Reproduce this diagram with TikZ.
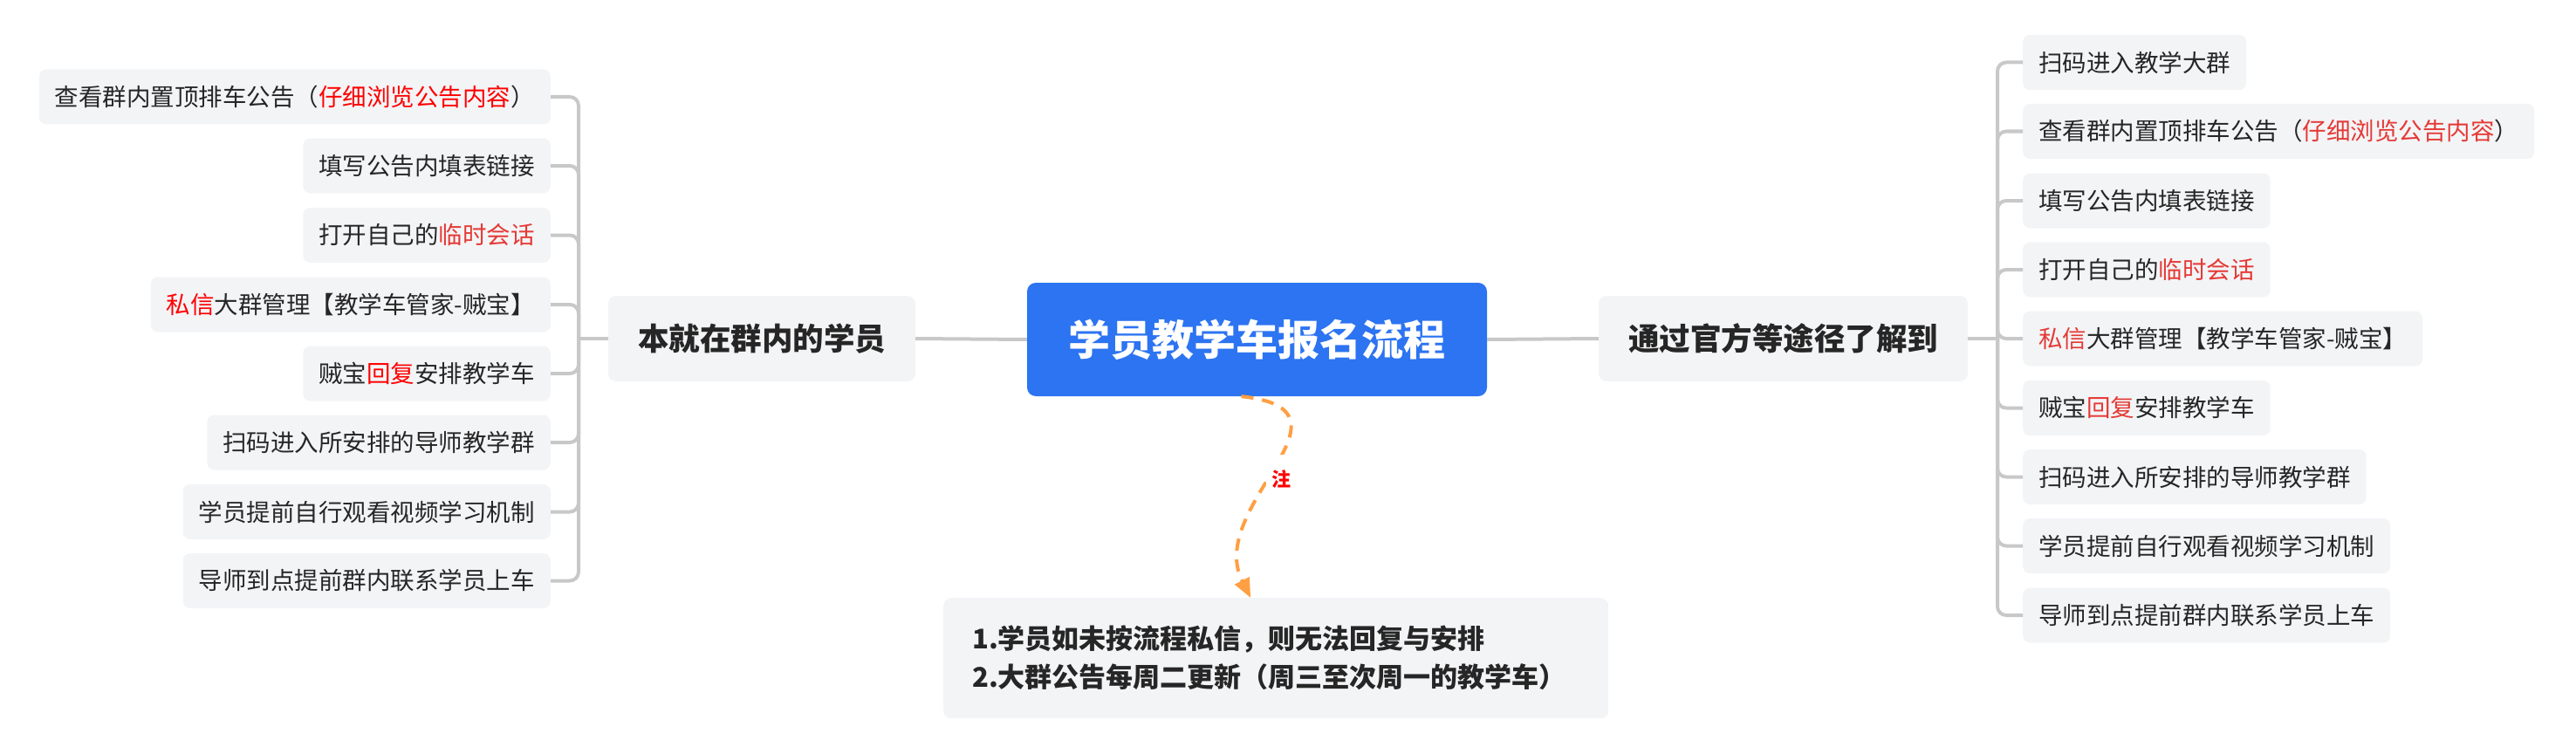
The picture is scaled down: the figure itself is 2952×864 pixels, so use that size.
\documentclass[tikz,border=0pt]{standalone}
\usepackage{fontspec}
\setmainfont{Noto Sans CJK SC}
\usetikzlibrary{arrows.meta}
\definecolor{boxfill}{RGB}{243,244,246}
\definecolor{linegray}{RGB}{200,200,200}
\definecolor{blueC}{RGB}{44,116,241}
\definecolor{txt}{RGB}{38,38,38}
\definecolor{redA}{RGB}{255,0,0}
\definecolor{redB}{RGB}{229,57,53}
\definecolor{orangeA}{RGB}{255,159,67}
\tikzset{
  leafbox/.style={fill=boxfill, rounded corners=8pt, minimum height=63pt, inner xsep=18pt, inner ysep=0pt, text=txt, font=\fontsize{27.5pt}{33pt}\selectfont},
  branchbox/.style={fill=boxfill, rounded corners=9pt, minimum height=98pt, inner xsep=34pt, inner ysep=0pt, text=txt, font=\fontsize{35.5pt}{42pt}\selectfont\bfseries},
  rootbox/.style={fill=blueC, rounded corners=10pt, minimum width=527pt, minimum height=130pt, text=white, font=\fontsize{48pt}{56pt}\selectfont\bfseries},
  notebox/.style={fill=boxfill, rounded corners=9pt, minimum height=138pt, text width=696pt, inner xsep=33pt, inner ysep=0pt, align=left, text=txt, font=\fontsize{31pt}{44pt}\selectfont\bfseries},
  conn/.style={draw=linegray, line width=4pt},
  spine/.style={conn, rounded corners=10pt},
  noteconn/.style={draw=orangeA, line width=4pt, dash pattern=on 14pt off 10pt, -{Triangle[length=22pt,width=18pt]}},
  notelabel/.style={fill=white, text=redA, inner xsep=6pt, inner ysep=18pt, font=\fontsize{22pt}{26pt}\selectfont\bfseries}
}
\begin{document}
\begin{tikzpicture}[x=1pt,y=-1pt]
\useasboundingbox (0,0) rectangle (2952,864);
% root and branches
\node[rootbox] (root) at (1440.5,389) {学员教学车报名流程};
\node[branchbox] (lb) at (873,388) {本就在群内的学员};
\node[branchbox] (rb) at (2043.5,388) {通过官方等途径了解到};
\node[notebox, anchor=north west] (note) at (1081,685) {1.学员如未按流程私信，则无法回复与安排\\2.大群公告每周二更新（周三至次周一的教学车）};
% left leaves
\node[leafbox, anchor=east] (l1) at (631,111) {查看群内置顶排车公告（\textcolor{redA}{仔细浏览公告内容}）};
\node[leafbox, anchor=east] (l2) at (631,190) {填写公告内填表链接};
\node[leafbox, anchor=east] (l3) at (631,269.5) {打开自己的\textcolor{redB}{临时会话}};
\node[leafbox, anchor=east] (l4) at (631,349) {\textcolor{redA}{私信}大群管理【教学车管家-贼宝】};
\node[leafbox, anchor=east] (l5) at (631,428) {贼宝\textcolor{redA}{回复}安排教学车};
\node[leafbox, anchor=east] (l6) at (631,507) {扫码进入所安排的导师教学群};
\node[leafbox, anchor=east] (l7) at (631,586.5) {学员提前自行观看视频学习机制};
\node[leafbox, anchor=east] (l8) at (631,665.5) {导师到点提前群内联系学员上车};
% right leaves
\node[leafbox, anchor=west] (r1) at (2318,71.5) {扫码进入教学大群};
\node[leafbox, anchor=west] (r2) at (2318,150.5) {查看群内置顶排车公告（\textcolor{redB}{仔细浏览公告内容}）};
\node[leafbox, anchor=west] (r3) at (2318,230) {填写公告内填表链接};
\node[leafbox, anchor=west] (r4) at (2318,309) {打开自己的\textcolor{redB}{临时会话}};
\node[leafbox, anchor=west] (r5) at (2318,388) {\textcolor{redB}{私信}大群管理【教学车管家-贼宝】};
\node[leafbox, anchor=west] (r6) at (2318,467.5) {贼宝\textcolor{redB}{回复}安排教学车};
\node[leafbox, anchor=west] (r7) at (2318,546.5) {扫码进入所安排的导师教学群};
\node[leafbox, anchor=west] (r8) at (2318,625.5) {学员提前自行观看视频学习机制};
\node[leafbox, anchor=west] (r9) at (2318,705) {导师到点提前群内联系学员上车};
% connectors root-branches
\draw[conn] (root.west) -- (lb.east);
\draw[conn] (root.east) -- (rb.west);
% left spine
\coordinate (ls) at (663,388);
\draw[conn] (lb.west) -- (ls);
\foreach \n in {l1,l2,l3,l4,l5,l6,l7,l8} \draw[spine] (ls) |- (\n.east);
% right spine
\coordinate (rs) at (2289,388);
\draw[conn] (rb.east) -- (rs);
\foreach \n in {r1,r2,r3,r4,r5,r6,r7,r8,r9} \draw[spine] (rs) |- (\n.west);
% note connector
\draw[noteconn] ([xshift=-18pt]root.south) .. controls (1570,470) and (1380,580) .. ([xshift=-29pt]note.north)
  node[notelabel, pos=0.55, xshift=12pt] (zhu) {注};
\end{tikzpicture}
\end{document}
